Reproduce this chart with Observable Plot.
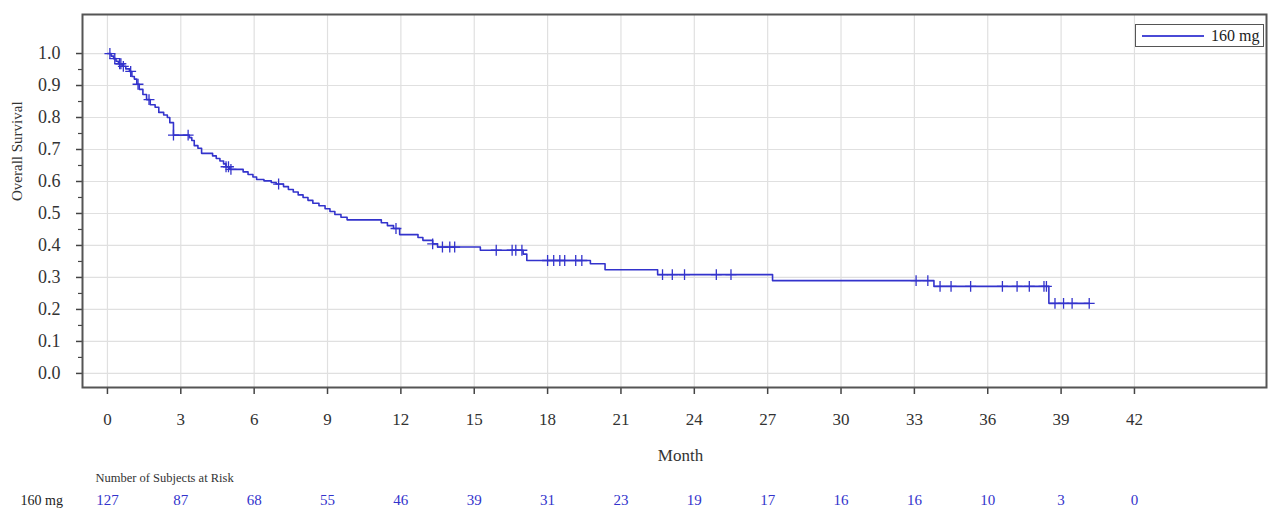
<!DOCTYPE html>
<html><head><meta charset="utf-8">
<script src="https://cdn.jsdelivr.net/npm/d3@7"></script>
<script src="https://cdn.jsdelivr.net/npm/@observablehq/plot@0.6"></script>
<style>
body{margin:0;background:#fff;}
#wrap{position:relative;width:1268px;height:513px;font-family:"Liberation Serif","Times New Roman",serif;}
#wrap svg, #wrap svg text{font-family:"Liberation Serif","Times New Roman",serif !important;}
#legend{position:absolute;left:1135px;top:24px;width:129px;height:23px;border:1.5px solid #555;box-sizing:border-box;background:#fff;display:flex;align-items:center;font-size:16px;color:#222;}
#legend .ln{width:62px;height:2px;background:#4a4ad6;margin:0 7px 0 6px;}
</style></head><body>
<div id="wrap"><div id="legend"><div class="ln"></div><span id="legtext"></span></div></div>
<script>
// ---- data ----
const seriesName = "160 mg";
const stepTimes = [0,0.15,0.25,0.35,0.45,0.6,0.75,0.9,1.0,1.1,1.2,1.3,1.45,1.6,1.75,1.95,2.1,2.3,2.45,2.55,2.7,
  3.35,3.45,3.55,3.7,3.85,4.3,4.45,4.6,4.75,4.85,5.0,5.55,5.75,5.95,6.1,6.4,6.7,6.9,7.2,7.4,7.6,7.8,8.0,8.2,8.4,8.65,8.9,
  9.1,9.3,9.55,9.8,11.2,11.45,11.7,11.95,12.7,12.9,13.3,13.5,15.25,17.0,17.15,19.75,20.35,22.5,27.2,33.8,38.5,40.15];
const stepSurv = [1.0,0.992,0.984,0.976,0.968,0.96,0.952,0.944,0.928,0.92,0.904,0.888,0.872,0.856,0.84,0.832,0.816,0.808,0.8,0.784,0.745,
  0.737,0.728,0.712,0.704,0.688,0.68,0.672,0.664,0.655,0.646,0.638,0.63,0.622,0.614,0.606,0.602,0.597,0.592,0.584,0.575,0.567,0.558,0.55,0.541,0.532,0.524,0.515,
  0.506,0.497,0.488,0.48,0.471,0.462,0.453,0.434,0.425,0.416,0.405,0.395,0.385,0.373,0.353,0.343,0.324,0.309,0.29,0.272,0.219,0.219];
const censorTimes = [0.1,0.3,0.5,0.55,0.65,0.95,1.25,1.7,2.7,3.3,4.85,4.95,5.05,7.0,11.8,13.3,13.7,14.0,14.2,15.9,16.55,16.7,16.95,
  18.0,18.25,18.5,18.7,19.15,19.4,22.7,23.1,23.6,24.9,25.5,33.07,33.55,34.05,34.5,35.3,36.6,37.2,37.7,38.3,38.4,38.75,39.1,39.45,40.15];
const xTicks = [0,3,6,9,12,15,18,21,24,27,30,33,36,39,42];
const atRisk = [127,87,68,55,46,39,31,23,19,17,16,16,10,3,0];
const yTicks = [0,0.1,0.2,0.3,0.4,0.5,0.6,0.7,0.8,0.9,1.0];
const yMinor = [0.05,0.15,0.25,0.35,0.45,0.55,0.65,0.75,0.85,0.95];
const yLabel = "Overall Survival";
const xLabel = "Month";
const riskHeader = "Number of Subjects at Risk";

// ---- build ----
const blue = "#3333cc";
const steps = stepTimes.map((t,i)=>({t, s: stepSurv[i]}));
function survAt(t){ let s = stepSurv[0]; for (let i=0;i<stepTimes.length;i++){ if (stepTimes[i] <= t) s = stepSurv[i]; } return s; }
const censors = censorTimes.map(t=>({t, s: survAt(t)}));
const riskRows = xTicks.map((t,i)=>({t, n: atRisk[i]}));
const serif = '"Liberation Serif","Times New Roman",serif';

const plot = Plot.plot({
  width:1268, height:513,
  marginLeft:82, marginRight:2, marginTop:14, marginBottom:126,
  style:{fontFamily:serif, fontSize:"17px", color:"#333", background:"#fff", overflow:"visible"},
  x:{domain:[-1.02,47.4]},
  y:{domain:[-0.044,1.122]},
  marks:[
    Plot.gridX(xTicks,{stroke:"#e0e0e0", strokeOpacity:1, strokeWidth:1.2}),
    Plot.gridY(yTicks,{stroke:"#e0e0e0", strokeOpacity:1, strokeWidth:1.2}),
    Plot.axisX(xTicks,{tickSize:7, tickPadding:18, tickFormat:d=>String(d), label:null, stroke:"#444", strokeWidth:1.5, fontSize:17, fill:"#333"}),
    Plot.axisY(yTicks,{tickSize:6, tickPadding:16, tickFormat:d3.format(".1f"), label:null, stroke:"#444", strokeWidth:1.5, fontSize:18, fill:"#333"}),
    Plot.axisY(yMinor,{tickSize:4, tickFormat:()=>"", label:null, stroke:"#444", strokeWidth:1.2}),
    Plot.frame({stroke:"#555", strokeWidth:2}),
    Plot.line(steps,{x:"t", y:"s", curve:"step-after", stroke:blue, strokeWidth:1.6}),
    Plot.dot(censors,{x:"t", y:"s", symbol:"plus", r:3.6, stroke:blue, strokeWidth:1.3}),
    Plot.text([yLabel],{frameAnchor:"left", dx:-65, rotate:-90, fontSize:15, fill:"#333"}),
    Plot.text([xLabel],{frameAnchor:"bottom", dx:6, dy:73, fontSize:17, fill:"#333"}),
    Plot.text([riskHeader],{frameAnchor:"bottom-left", textAnchor:"start", dx:13, dy:94, fontSize:12.5, fill:"#333"}),
    Plot.text([seriesName],{frameAnchor:"bottom-left", textAnchor:"start", dx:-62, dy:117, fontSize:14, fill:"#222"}),
    Plot.text(riskRows,{x:"t", text:"n", frameAnchor:"bottom", dy:117, fontSize:15, fill:blue})
  ]
});
document.getElementById("legtext").textContent = seriesName;
document.getElementById("wrap").prepend(plot);
</script>
</body></html>
